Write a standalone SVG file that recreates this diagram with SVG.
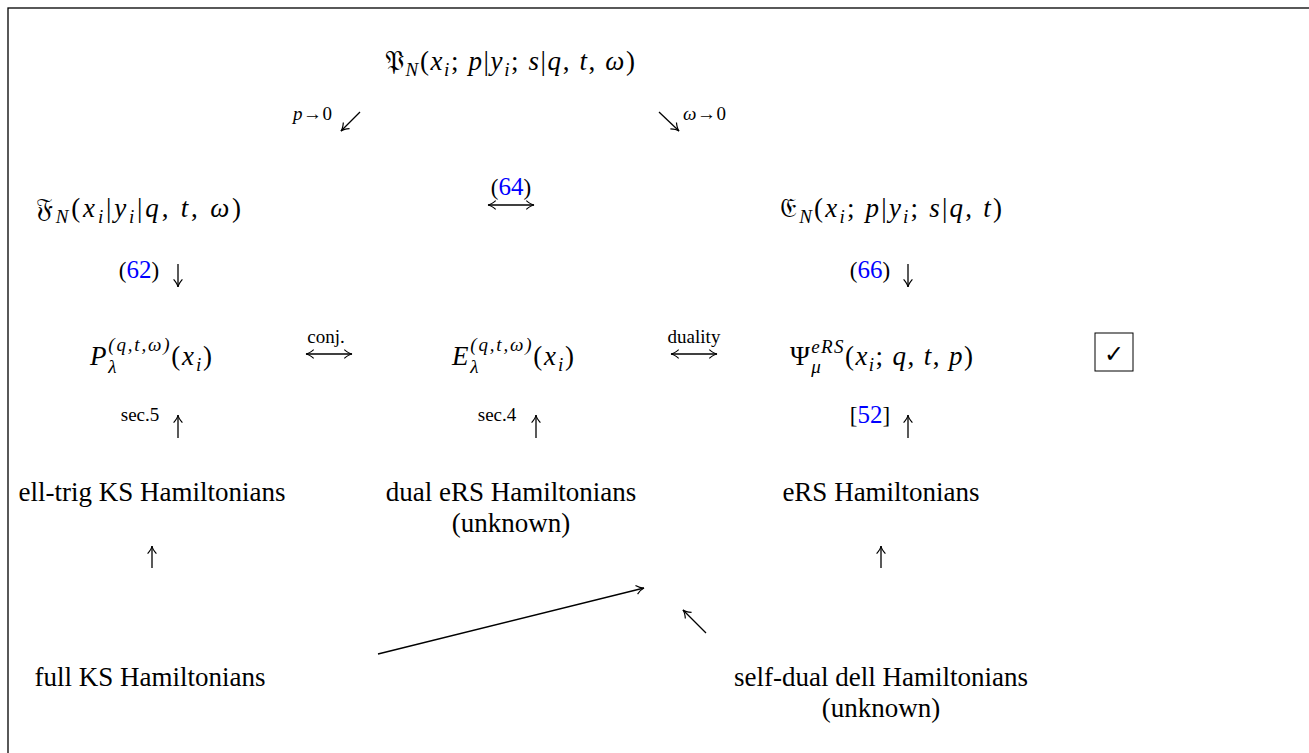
<svg xmlns="http://www.w3.org/2000/svg" width="1309" height="753" viewBox="0 0 1309 753">
<style>
text{font-family:"Liberation Serif","DejaVu Serif",serif;fill:#000}
.m{font-size:27px;letter-spacing:1.8px}
.t{font-size:27px;text-anchor:middle}
.s{font-size:19px}
.r{font-size:23px;text-anchor:middle}
.i{font-style:italic}
.sb{font-size:19px}
.b{fill:#0000ff;font-size:25px}
.c{fill:none;stroke:#000;stroke-width:1.3}
</style>
<defs>
<marker id="ah" viewBox="0 0 10 10" refX="9" refY="5" markerWidth="11" markerHeight="11" markerUnits="userSpaceOnUse" orient="auto-start-reverse">
<path d="M2,1 Q6,4.5 9,5 Q6,5.5 2,9" fill="none" stroke="#000" stroke-width="1.1"/>
</marker>
</defs>
<rect x="8" y="8" width="1400" height="800" fill="#fff" stroke="#000" stroke-width="1.3"/>

<g id="nodeP"><text class="m" x="385" y="70" style="letter-spacing:1.6px">𝔓<tspan class="sb i" dy="6">N</tspan><tspan dy="-6">(</tspan><tspan class="i">x</tspan><tspan class="sb i" dy="6">i</tspan><tspan dy="-6">; </tspan><tspan class="i">p</tspan>|<tspan class="i">y</tspan><tspan class="sb i" dy="6">i</tspan><tspan dy="-6">; </tspan><tspan class="i">s</tspan>|<tspan class="i">q</tspan>, <tspan class="i">t</tspan>, <tspan class="i">ω</tspan>)</text></g>

<g id="nodeF"><text class="m" x="36" y="217" style="letter-spacing:2.8px">𝔉<tspan class="sb i" dy="6">N</tspan><tspan dy="-6">(</tspan><tspan class="i">x</tspan><tspan class="sb i" dy="6">i</tspan><tspan dy="-6">|</tspan><tspan class="i">y</tspan><tspan class="sb i" dy="6">i</tspan><tspan dy="-6">|</tspan><tspan class="i">q</tspan>, <tspan class="i">t</tspan>, <tspan class="i">ω</tspan>)</text></g>

<g id="nodeE"><text class="m" x="780" y="217" style="letter-spacing:2.2px">𝔈<tspan class="sb i" dy="6">N</tspan><tspan dy="-6">(</tspan><tspan class="i">x</tspan><tspan class="sb i" dy="6">i</tspan><tspan dy="-6">; </tspan><tspan class="i">p</tspan>|<tspan class="i">y</tspan><tspan class="sb i" dy="6">i</tspan><tspan dy="-6">; </tspan><tspan class="i">s</tspan>|<tspan class="i">q</tspan>, <tspan class="i">t</tspan>)</text></g>

<g id="nodePl"><text class="m" x="90" y="365"><tspan class="i">P</tspan><tspan class="sb i" dy="8">λ</tspan><tspan class="sb i" dx="-10" dy="-22">(q,t,ω)</tspan><tspan dy="14">(</tspan><tspan class="i">x</tspan><tspan class="sb i" dy="6">i</tspan><tspan dy="-6">)</tspan></text></g>

<g id="nodeEl"><text class="m" x="452" y="365"><tspan class="i">E</tspan><tspan class="sb i" dy="8">λ</tspan><tspan class="sb i" dx="-10" dy="-22">(q,t,ω)</tspan><tspan dy="14">(</tspan><tspan class="i">x</tspan><tspan class="sb i" dy="6">i</tspan><tspan dy="-6">)</tspan></text></g>

<g id="nodePsi"><text class="m" x="790" y="365" style="letter-spacing:1.4px">Ψ<tspan class="sb i" dy="8">μ</tspan><tspan class="sb i" dx="-11" dy="-20">eRS</tspan><tspan dy="12">(</tspan><tspan class="i">x</tspan><tspan class="sb i" dy="6">i</tspan><tspan dy="-6">; </tspan><tspan class="i">q</tspan>, <tspan class="i">t</tspan>, <tspan class="i">p</tspan>)</text></g>

<g id="check"><rect x="1095" y="333" width="38" height="38" fill="none" stroke="#000" stroke-width="1"/><text x="1114" y="362" style="font-size:24px;text-anchor:middle;font-family:'DejaVu Sans',sans-serif">✓</text></g>

<g id="nodeKS"><text class="t" x="152" y="501">ell-trig KS Hamiltonians</text></g>
<g id="nodeDual"><text class="t" x="511" y="501">dual eRS Hamiltonians</text><text class="t" x="511" y="532">(unknown)</text></g>
<g id="nodeERS"><text class="t" x="881" y="501">eRS Hamiltonians</text></g>
<g id="nodeFull"><text class="t" x="150" y="686">full KS Hamiltonians</text></g>
<g id="nodeSD"><text class="t" x="881" y="686">self-dual dell Hamiltonians</text><text class="t" x="881" y="717">(unknown)</text></g>

<g id="labels">
<text class="s" x="293" y="120" style="letter-spacing:0.5px"><tspan class="i">p</tspan>→0</text>
<text class="s" x="683" y="120" style="letter-spacing:0.5px"><tspan class="i">ω</tspan>→0</text>
<text class="r" x="511" y="195">(<tspan class="b">64</tspan>)</text>
<text class="r" x="139" y="278">(<tspan class="b">62</tspan>)</text>
<text class="r" x="870" y="278">(<tspan class="b">66</tspan>)</text>
<text class="s" x="326" y="343" style="text-anchor:middle">conj.</text>
<text class="s" x="694" y="343" style="text-anchor:middle">duality</text>
<text class="s" x="140" y="421" style="text-anchor:middle">sec.5</text>
<text class="s" x="497" y="421" style="text-anchor:middle">sec.4</text>
<text class="r" x="870" y="423">[<tspan class="b">52</tspan>]</text>
</g>

<g id="connectors">
<path class="c" d="M360,112 L341,131" marker-end="url(#ah)"/>
<path class="c" d="M659,112 L679,131" marker-end="url(#ah)"/>
<path class="c" d="M488,205 L534,205" marker-start="url(#ah)" marker-end="url(#ah)"/>
<path class="c" d="M306,354 L352,354" marker-start="url(#ah)" marker-end="url(#ah)"/>
<path class="c" d="M671,354 L717,354" marker-start="url(#ah)" marker-end="url(#ah)"/>
<path class="c" d="M178,264 L178,287" marker-end="url(#ah)"/>
<path class="c" d="M908,264 L908,287" marker-end="url(#ah)"/>
<path class="c" d="M178,438 L178,415" marker-end="url(#ah)"/>
<path class="c" d="M536,438 L536,415" marker-end="url(#ah)"/>
<path class="c" d="M908,438 L908,415" marker-end="url(#ah)"/>
<path class="c" d="M152,568 L152,546" marker-end="url(#ah)"/>
<path class="c" d="M881,568 L881,546" marker-end="url(#ah)"/>
<path class="c" d="M378,654 L644,588" marker-end="url(#ah)"/>
<path class="c" d="M706,633 L683,610" marker-end="url(#ah)"/>
</g>
</svg>
